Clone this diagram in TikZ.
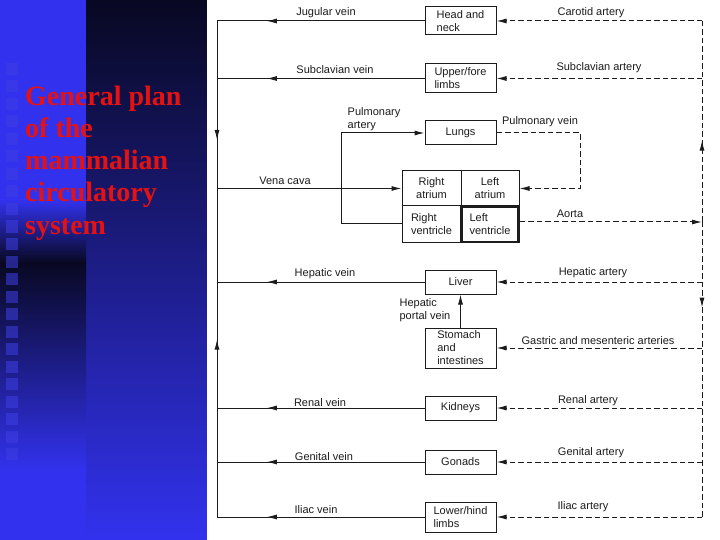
\documentclass[tikz,border=0pt]{standalone}
\usepackage{fontspec}
\setmainfont{Liberation Sans}
\newfontfamily\titlefont{Liberation Serif}
\usetikzlibrary{arrows.meta,decorations.markings}
\definecolor{bright}{RGB}{50,50,238}
\definecolor{darknavy}{RGB}{8,8,34}
\definecolor{titlered}{RGB}{228,18,18}
\definecolor{squarecol}{RGB}{62,62,228}
\definecolor{ink}{RGB}{28,28,28}
\begin{document}
\begin{tikzpicture}[x=1pt,y=-1pt,
  box/.style={draw=ink,line width=1pt,minimum width=71pt,inner sep=1pt,align=left,font=\fontsize{11}{13}\selectfont,text=ink},
  cell/.style={draw=ink,line width=1pt,inner sep=1pt,align=center,font=\fontsize{11}{13}\selectfont,text=ink},
  lab/.style={font=\fontsize{11}{13}\selectfont,text=ink,inner sep=0pt},
  titletext/.style={font=\titlefont\bfseries\fontsize{28}{30}\selectfont,text=titlered,inner sep=0pt,anchor=base west},
  vein/.style={draw=ink,line width=1pt},
  art/.style={draw=ink,line width=1pt,dash pattern=on 5.5pt off 3pt},
  tip/.style={-{Latex[length=10pt,width=5pt]}},
  midarrow/.style={postaction={decorate},decoration={markings,mark=at position #1 with {\arrow{Latex[length=10pt,width=5pt]}}}},
]
\useasboundingbox (0,0) rectangle (720,540);
% background
\fill[darknavy] (0,0) rectangle (720,540);
\shade[top color=darknavy,bottom color=bright] (86,0) rectangle (208,540);
\fill[bright] (0,0) rectangle (86,201);
\shade[top color=bright,bottom color=darknavy] (0,200) rectangle (86,263);
\shade[top color=darknavy,bottom color=bright] (0,262) rectangle (86,471);
\fill[bright] (0,470) rectangle (86,540);
\foreach \i in {0,...,22} \fill[squarecol,opacity=0.55] (6,63+17.5*\i) rectangle ++(12,12);
\fill[white] (207,0) rectangle (720,540);
% title
\node[titletext] (t1) at (25,106) {General plan};
\node[titletext] (t2) at (25,138) {of the};
\node[titletext] (t3) at (25,170) {mammalian};
\node[titletext] (t4) at (25,202) {circulatory};
\node[titletext] (t5) at (25,234) {system};
% organ boxes
\node[box,minimum height=28pt] (head) at (460.5,21) {Head and\\neck};
\node[box,minimum height=29pt] (upper) at (460.5,78.5) {Upper/fore\\limbs};
\node[box,minimum height=24pt,align=center] (lungs) at (460.5,133) {Lungs};
\node[cell,minimum width=59pt,minimum height=35pt] (ra) at (431.5,188.5) {Right\\atrium};
\node[cell,minimum width=58pt,minimum height=35pt] (la) at (490,188.5) {Left\\atrium};
\node[cell,minimum width=59pt,minimum height=36pt,align=left] (rv) at (431.5,224) {Right\\ventricle};
\node[cell,minimum width=57pt,minimum height=35pt,align=left,line width=2.6pt] (lv) at (490,224.5) {Left\\ventricle};
\node[box,minimum height=24pt,align=center] (liver) at (460.5,282) {Liver};
\node[box,minimum height=40pt] (stomach) at (460.5,348) {Stomach\\and\\intestines};
\node[box,minimum height=24pt,align=center] (kidneys) at (460.5,408) {Kidneys};
\node[box,minimum height=24pt,align=center] (gonads) at (460.5,462) {Gonads};
\node[box,minimum height=30pt] (lower) at (460.5,517) {Lower/hind\\limbs};
% trunk coordinates
\coordinate (lt) at (217,21);
\coordinate (lvc) at (217,188.5);
\coordinate (lb) at (217,517);
\coordinate (rt) at (702,21);
\coordinate (aj) at (702,222);
\coordinate (rb) at (702,517);
\coordinate (pa) at (341,224);
\coordinate (pv) at (580,188.5);
% veins
\foreach \b in {head,upper,liver,kidneys,gonads,lower}
  \draw[vein,midarrow=0.76] (\b.west) -- (\b.west -| lt);
\draw[vein,midarrow=0.71] (lt) -- (lvc);
\draw[vein,midarrow=0.54] (lb) -- (lvc);
\draw[vein,tip] (lvc) -- (ra.west);
% arteries
\draw[art,midarrow=0.405] (aj) -- (rt);
\draw[art,midarrow=0.29] (aj) -- (rb);
\draw[art,tip] (lv.east |- aj) -- (aj);
\foreach \b in {head,upper,liver,stomach,kidneys,gonads,lower}
  \draw[art,tip] (\b.east -| rt) -- (\b.east);
% pulmonary and portal
\draw[vein,tip] (rv.west) -- (pa) |- (lungs.west);
\draw[art,tip] (lungs.east) -| (pv) -- (la.east);
\draw[vein,tip] (stomach.north) -- (liver.south);
% labels
\node[lab] (l1) at (326,12.5) {Jugular vein};
\node[lab] (l2) at (335,70) {Subclavian vein};
\node[lab,align=left] (l3) at (374,119) {Pulmonary\\artery};
\node[lab] (l4) at (285,181) {Vena cava};
\node[lab] (l5) at (325,274) {Hepatic vein};
\node[lab,align=left] (l6) at (425,310.5) {Hepatic\\portal vein};
\node[lab] (l7) at (320,403) {Renal vein};
\node[lab] (l8) at (324,457) {Genital vein};
\node[lab] (l9) at (316,510) {Iliac vein};
\node[lab] (r1) at (591,13) {Carotid artery};
\node[lab] (r2) at (599,68) {Subclavian artery};
\node[lab] (r3) at (540,122) {Pulmonary vein};
\node[lab] (r4) at (570,214) {Aorta};
\node[lab] (r5) at (593,273) {Hepatic artery};
\node[lab] (r6) at (598,341) {Gastric and mesenteric arteries};
\node[lab] (r7) at (588,401) {Renal artery};
\node[lab] (r8) at (591,453) {Genital artery};
\node[lab] (r9) at (583,507) {Iliac artery};
\end{tikzpicture}
\end{document}
